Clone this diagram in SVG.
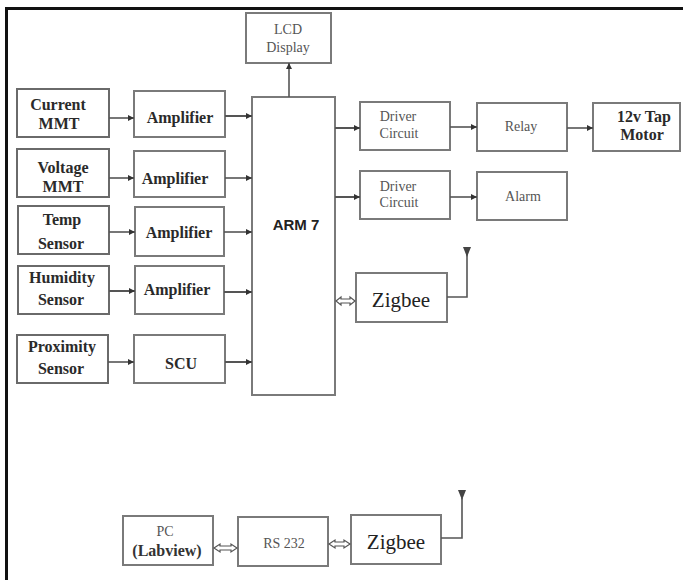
<svg xmlns="http://www.w3.org/2000/svg" width="683" height="580" viewBox="0 0 683 580">
<style>
  .box { fill: #ffffff; stroke: #7a7a7a; stroke-width: 2; }
  .sbox { fill: #ffffff; stroke: #6a6a6a; stroke-width: 2; }
  .tb { font-family: "Liberation Serif", "Times New Roman", serif; font-weight: bold; font-size: 16px; fill: #2a2a2a; text-anchor: middle; dominant-baseline: central; }
  .tn { font-family: "Liberation Serif", "Times New Roman", serif; font-size: 14px; fill: #555555; text-anchor: middle; dominant-baseline: central; }
  .tz { font-family: "Liberation Serif", "Times New Roman", serif; font-size: 21px; fill: #222222; text-anchor: middle; dominant-baseline: central; }
  .arm { font-family: "Liberation Sans", Arial, sans-serif; font-weight: bold; font-size: 15px; fill: #222222; text-anchor: middle; dominant-baseline: central; }
  .ln { fill: none; stroke: #555555; stroke-width: 1.6; }
  .lnh { fill: none; stroke: #555555; stroke-width: 2; }
  .dbl { fill: #ffffff; stroke: #555555; stroke-width: 1.2; }
  .ant { fill: #444444; stroke: none; }
</style>
<defs>
  <marker id="ah" viewBox="0 0 10 10" refX="10" refY="5" markerWidth="6" markerHeight="6" markerUnits="userSpaceOnUse" orient="auto">
    <path d="M0,0 L10,5 L0,10 z" fill="#333333"/>
  </marker>
</defs>
<rect x="0" y="0" width="683" height="580" fill="#ffffff"/>
<g id="frame">
  <line x1="5" y1="8.5" x2="683" y2="8.5" stroke="#111111" stroke-width="3"/>
  <line x1="6.5" y1="7" x2="6.5" y2="580" stroke="#111111" stroke-width="3"/>
</g>

<g id="lcd"><rect class="box" x="246" y="13" width="85" height="50"/>
  <text class="tn" x="288" y="29" font-size="13">LCD</text>
  <text class="tn" x="288" y="47" font-size="13">Display</text></g>

<g id="current"><rect class="sbox" x="17" y="89" width="92" height="48"/>
  <text class="tb" x="58" y="104">Current</text><text class="tb" x="59" y="123">MMT</text></g>
<g id="amp1"><rect class="box" x="134" y="91" width="91" height="46"/>
  <text class="tb" x="180" y="117">Amplifier</text></g>

<g id="voltage"><rect class="sbox" x="17" y="149" width="92" height="48"/>
  <text class="tb" x="63" y="167">Voltage</text><text class="tb" x="63" y="186">MMT</text></g>
<g id="amp2"><rect class="box" x="134" y="151" width="91" height="46"/>
  <text class="tb" x="175" y="178">Amplifier</text></g>

<g id="temp"><rect class="sbox" x="18" y="206" width="91" height="48"/>
  <text class="tb" x="62" y="219">Temp</text><text class="tb" x="61" y="243">Sensor</text></g>
<g id="amp3"><rect class="box" x="135" y="207" width="89" height="49"/>
  <text class="tb" x="179" y="232">Amplifier</text></g>

<g id="humidity"><rect class="sbox" x="18" y="266" width="91" height="48"/>
  <text class="tb" x="62" y="277">Humidity</text><text class="tb" x="61" y="299">Sensor</text></g>
<g id="amp4"><rect class="box" x="135" y="266" width="89" height="48"/>
  <text class="tb" x="177" y="289">Amplifier</text></g>

<g id="proximity"><rect class="sbox" x="17" y="335" width="91" height="48"/>
  <text class="tb" x="62" y="346">Proximity</text><text class="tb" x="61" y="368">Sensor</text></g>
<g id="scu"><rect class="box" x="134" y="335" width="91" height="48"/>
  <text class="tb" x="181" y="363">SCU</text></g>

<g id="arm7"><rect class="box" x="252" y="97" width="83" height="298"/>
  <text class="arm" x="296" y="224">ARM 7</text></g>

<g id="driver1"><rect class="box" x="360" y="102" width="90" height="48"/>
  <text class="tn" x="398" y="116">Driver</text><text class="tn" x="399" y="133">Circuit</text></g>
<g id="relay"><rect class="box" x="477" y="103" width="90" height="48"/>
  <text class="tn" x="521" y="126">Relay</text></g>
<g id="motor"><rect class="box" x="593" y="103" width="87" height="48"/>
  <text class="tb" x="644" y="116" font-size="17">12v Tap</text><text class="tb" x="642" y="134" font-size="17">Motor</text></g>

<g id="driver2"><rect class="box" x="360" y="171" width="90" height="48"/>
  <text class="tn" x="398" y="186">Driver</text><text class="tn" x="399" y="202">Circuit</text></g>
<g id="alarm"><rect class="box" x="477" y="172" width="90" height="48"/>
  <text class="tn" x="523" y="196">Alarm</text></g>

<g id="zigbee1"><rect class="box" x="356" y="273" width="91" height="49"/>
  <text class="tz" x="401" y="300">Zigbee</text></g>

<g id="pc"><rect class="box" x="123" y="516" width="90" height="49"/>
  <text class="tn" x="165" y="531" font-size="13">PC</text>
  <text class="tb" x="167" y="550" font-size="15" style="fill:#333333">(Labview)</text></g>
<g id="rs232"><rect class="box" x="238" y="517" width="90" height="49"/>
  <text class="tn" x="284" y="543">RS 232</text></g>
<g id="zigbee2"><rect class="box" x="351" y="515" width="90" height="49"/>
  <text class="tz" x="396" y="542">Zigbee</text></g>

<g id="connectors">
  <line class="ln" x1="109" y1="118" x2="134" y2="118" marker-end="url(#ah)"/>
  <line class="lnh" x1="225" y1="116" x2="252" y2="116" marker-end="url(#ah)"/>
  <line class="ln" x1="109" y1="178" x2="134" y2="178" marker-end="url(#ah)"/>
  <line class="ln" x1="225" y1="178" x2="252" y2="178" marker-end="url(#ah)"/>
  <line class="ln" x1="109" y1="232" x2="135" y2="232" marker-end="url(#ah)"/>
  <line class="ln" x1="224" y1="232" x2="252" y2="232" marker-end="url(#ah)"/>
  <line class="lnh" x1="109" y1="291" x2="135" y2="291" marker-end="url(#ah)"/>
  <line class="lnh" x1="224" y1="292" x2="252" y2="292" marker-end="url(#ah)"/>
  <line class="ln" x1="108" y1="362" x2="134" y2="362" marker-end="url(#ah)"/>
  <line class="lnh" x1="225" y1="362" x2="252" y2="362" marker-end="url(#ah)"/>
  <line class="ln" x1="289" y1="97" x2="289" y2="63" marker-end="url(#ah)"/>
  <line class="lnh" x1="335" y1="128" x2="360" y2="128" marker-end="url(#ah)"/>
  <line class="lnh" x1="335" y1="197" x2="360" y2="197" marker-end="url(#ah)"/>
  <line class="ln" x1="450" y1="127" x2="477" y2="127" marker-end="url(#ah)"/>
  <line class="ln" x1="567" y1="128" x2="593" y2="128" marker-end="url(#ah)"/>
  <line class="ln" x1="450" y1="197" x2="477" y2="197" marker-end="url(#ah)"/>
  <path class="dbl" d="M336,301 L341,297 L341,299 L350,299 L350,297 L355,301 L350,305 L350,303 L341,303 L341,305 Z"/>
  <path class="dbl" d="M214,548 L220,544 L220,546 L231,546 L231,544 L237,548 L231,552 L231,550 L220,550 L220,552 Z"/>
  <path class="dbl" d="M329,544 L335,540 L335,542 L344,542 L344,540 L350,544 L344,548 L344,546 L335,546 L335,548 Z"/>
  <polyline class="ln" points="447,297 467,297 467,254"/>
  <path class="ant" d="M463,247 L471,247 L467,257 Z"/>
  <polyline class="ln" points="441,538 462,538 462,498"/>
  <path class="ant" d="M458,490 L466,490 L462,500 Z"/>
</g>
</svg>
